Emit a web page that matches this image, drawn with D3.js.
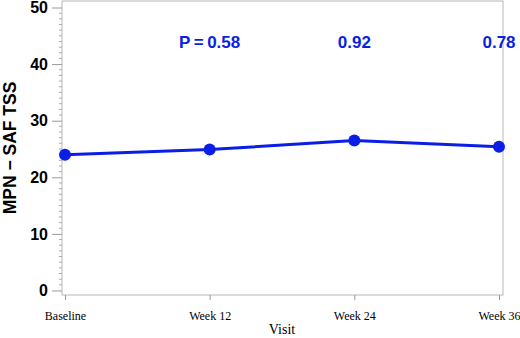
<!DOCTYPE html>
<html>
<head>
<meta charset="utf-8">
<script src="https://cdn.jsdelivr.net/npm/d3@7"></script>
<style>
  body { margin: 0; background: #fff; }
</style>
</head>
<body>
<svg width="520" height="338"></svg>
<script>
// data
var visits = ["Baseline", "Week 12", "Week 24", "Week 36"];
var tss = [24.0, 24.9, 26.5, 25.4];
var pLabels = ["", "P\u2009=\u20090.58", "0.92", "0.78"];
var yTicks = [0, 10, 20, 30, 40, 50];

var svg = d3.select("svg");
var blue = "#0a1ee6";

var frame = {left: 62, right: 503, top: 1, bottom: 295};

var x = d3.scalePoint().domain(visits).range([65, 499]);
var y = d3.scaleLinear().domain([0, 50]).range([290.5, 7.5]);

// frame
svg.append("rect")
  .attr("x", frame.left).attr("y", frame.top)
  .attr("width", frame.right - frame.left)
  .attr("height", frame.bottom - frame.top)
  .attr("fill", "none").attr("stroke", "#b8b8b8").attr("stroke-width", 1);

// minor y ticks
var minor = d3.range(0, 51, 1).filter(function (d) { return d % 10 !== 0; });
svg.append("g").selectAll("line").data(minor).enter().append("line")
  .attr("x1", frame.left - 3).attr("x2", frame.left)
  .attr("y1", function (d) { return y(d); }).attr("y2", function (d) { return y(d); })
  .attr("stroke", "#aaa").attr("stroke-width", 1);

// y axis
var yAxis = d3.axisLeft(y).tickValues(yTicks).tickSize(10).tickPadding(4).tickSizeOuter(0);
var gy = svg.append("g").attr("transform", "translate(" + frame.left + ",0)").call(yAxis);
gy.select(".domain").remove();
gy.selectAll(".tick line").attr("stroke", "#999");
gy.selectAll(".tick text")
  .attr("font-family", "Liberation Sans, Arial, sans-serif")
  .attr("font-weight", "bold").attr("font-size", 16).attr("fill", "#000");

// x axis
var xAxis = d3.axisBottom(x).tickSize(5).tickPadding(11).tickSizeOuter(0);
var gx = svg.append("g").attr("transform", "translate(0," + frame.bottom + ")").call(xAxis);
gx.select(".domain").remove();
gx.selectAll(".tick line").attr("stroke", "#999");
gx.selectAll(".tick text")
  .attr("font-family", "Liberation Serif, Times New Roman, serif")
  .attr("font-size", 12).attr("fill", "#000");

// axis titles
svg.append("text")
  .attr("x", 282).attr("y", 334)
  .attr("text-anchor", "middle")
  .attr("font-family", "Liberation Serif, Times New Roman, serif")
  .attr("font-size", 14).text("Visit");

svg.append("text")
  .attr("transform", "translate(16,148) rotate(-90)")
  .attr("text-anchor", "middle")
  .attr("font-family", "Liberation Sans, Arial, sans-serif")
  .attr("font-weight", "bold").attr("font-size", 17.5)
  .text("MPN \u2212 SAF TSS");

// line
var line = d3.line()
  .x(function (d, i) { return x(visits[i]); })
  .y(function (d) { return y(d); });

svg.append("path").datum(tss)
  .attr("fill", "none").attr("stroke", blue).attr("stroke-width", 3)
  .attr("d", line);

svg.selectAll("circle.pt").data(tss).enter().append("circle")
  .attr("class", "pt")
  .attr("cx", function (d, i) { return x(visits[i]); })
  .attr("cy", function (d) { return y(d); })
  .attr("r", 6).attr("fill", blue);

// p-values
svg.selectAll("text.pv").data(pLabels).enter().append("text")
  .attr("class", "pv")
  .attr("x", function (d, i) { return x(visits[i]); })
  .attr("y", 48)
  .attr("text-anchor", "middle")
  .attr("font-family", "Liberation Sans, Arial, sans-serif")
  .attr("font-weight", "bold").attr("font-size", 17)
  .attr("fill", blue)
  .text(function (d) { return d; });
</script>
</body>
</html>
